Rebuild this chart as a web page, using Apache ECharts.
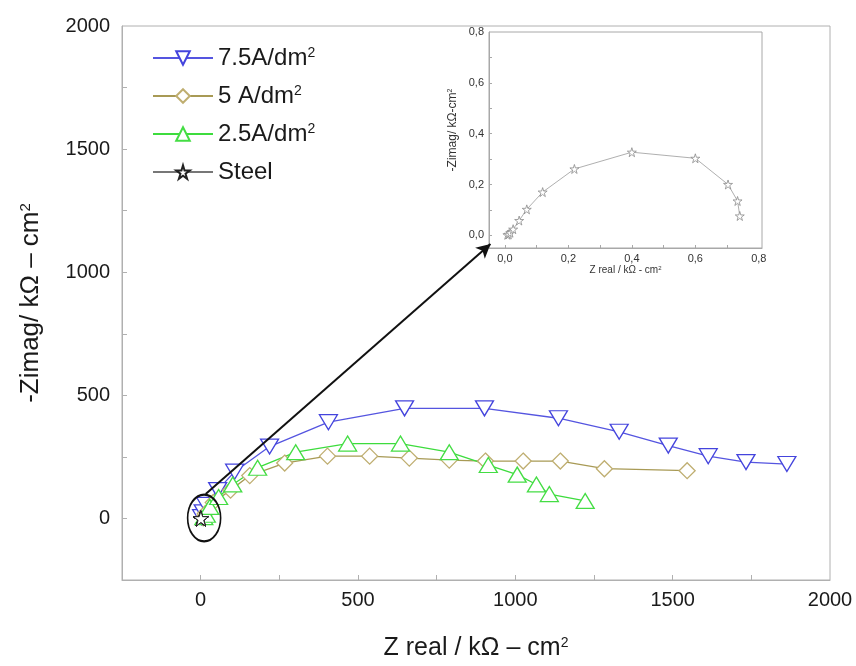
<!DOCTYPE html>
<html><head><meta charset="utf-8">
<script src="https://cdn.jsdelivr.net/npm/echarts@6/dist/echarts.min.js"></script>
<style>html,body{margin:0;padding:0;background:#fff}#c{width:856px;height:666px}</style>
</head><body><div id="c"></div>
<script>
// ---------- data (kΩ·cm²) ----------
const names = ['7.5A/dm2', '5 A/dm2', '2.5A/dm2', 'Steel'];

const zReal75 = [3, 8, 16, 54, 108, 219, 406, 648, 902, 1137, 1330, 1486, 1613, 1733, 1863];
const zImag75 = [5, 25, 55, 115, 190, 292, 391, 447, 447, 407, 352, 296, 253, 229, 221];

const zReal50 = [8, 15, 40, 95, 156, 267, 403, 537, 663, 790, 905, 1025, 1143, 1283, 1546];
const zImag50 = [3, 20, 65, 115, 174, 225, 253, 253, 245, 237, 233, 233, 233, 202, 194];

const zReal25 = [10, 18, 29, 57, 102, 181, 302, 467, 635, 790, 914, 1006, 1067, 1108, 1222];
const zImag25 = [5, 15, 47, 87, 138, 206, 269, 304, 304, 269, 217, 178, 138, 99, 71];

const zRealSteel = [0.008, 0.012, 0.017, 0.026, 0.045, 0.069, 0.119, 0.219, 0.400, 0.600, 0.703, 0.733, 0.740];
const zImagSteel = [0.002, 0.004, 0.010, 0.024, 0.058, 0.102, 0.170, 0.261, 0.327, 0.303, 0.200, 0.135, 0.076];

const mainLabelTicks = [0, 500, 1000, 1500, 2000];
const mainTicks = [0, 250, 500, 750, 1000, 1250, 1500, 1750];
const insetLabelTicks = [0, 0.2, 0.4, 0.6, 0.8];
const insetTicks = [0, 0.1, 0.2, 0.3, 0.4, 0.5, 0.6, 0.7];

const pairs = (xs, ys) => xs.map((x, i) => [x, ys[i]]);

const STAR = 'path://M50,0 L61,35 L98,35 L68,57 L79,91 L50,70 L21,91 L32,57 L2,35 L39,35 Z';
const FONT = 'Liberation Sans, Arial, sans-serif';

const legendText = {
  '7.5A/dm2': '{b|7.5A/dm}{s|2}',
  '5 A/dm2': '{b|5 A/dm}{s|2}',
  '2.5A/dm2': '{b|2.5A/dm}{s|2}',
  'Steel': '{b|Steel}'
};

const chart = echarts.init(document.getElementById('c'), null, {renderer: 'canvas'});

const mainAxisCommon = {
  type: 'value',
  min: -250, max: 2000,
  axisLine: {show: true, onZero: false, lineStyle: {color: '#b0b0b0', width: 1}},
  splitLine: {show: false},
  axisTick: {show: true, inside: true, length: 5, customValues: mainTicks, lineStyle: {color: '#b0b0b0'}},
  axisLabel: {customValues: mainLabelTicks, color: '#1a1a1a', fontSize: 20, fontFamily: FONT, formatter: v => String(v)},
  nameTextStyle: {color: '#1a1a1a', fontFamily: FONT}
};
const insetAxisCommon = {
  type: 'value',
  axisLine: {show: true, onZero: false, lineStyle: {color: '#a8a8a8', width: 1}},
  splitLine: {show: false},
  axisTick: {show: true, inside: true, length: 3, customValues: insetTicks, lineStyle: {color: '#a8a8a8'}},
  axisLabel: {customValues: insetLabelTicks, color: '#333', fontSize: 11, fontFamily: FONT, margin: 5,
    formatter: v => v.toFixed(1).replace('.', ',')},
  nameTextStyle: {color: '#333', fontFamily: FONT}
};

const option = {
  animation: false,
  backgroundColor: '#fff',
  textStyle: {fontFamily: FONT},
  grid: [
    {left: 122, top: 26, right: 26, bottom: 72, show: true, borderColor: '#b0b0b0', borderWidth: 1, containLabel: false},
    {left: 489, top: 32, right: 94, bottom: 418, show: true, borderColor: '#a8a8a8', borderWidth: 1, backgroundColor: '#fff', containLabel: false}
  ],
  xAxis: [
    Object.assign({}, mainAxisCommon, {gridIndex: 0,
      axisLabel: Object.assign({}, mainAxisCommon.axisLabel, {margin: 10}),
      name: '{n|Z real / kΩ – cm}{s|2}', nameLocation: 'middle', nameGap: 56,
      nameTextStyle: {rich: {n: {fontSize: 25, color: '#1a1a1a', fontFamily: FONT}, s: {fontSize: 14, color: '#1a1a1a', verticalAlign: 'top', fontFamily: FONT}}}}),
    Object.assign({}, insetAxisCommon, {gridIndex: 1, min: -0.05, max: 0.81,
      name: '{n|Z real / kΩ - cm}{s|2}', nameLocation: 'middle', nameGap: 9,
      nameTextStyle: {rich: {n: {fontSize: 10, color: '#333', fontFamily: FONT}, s: {fontSize: 6, color: '#333', verticalAlign: 'top', fontFamily: FONT}}}})
  ],
  yAxis: [
    Object.assign({}, mainAxisCommon, {gridIndex: 0,
      axisLabel: Object.assign({}, mainAxisCommon.axisLabel, {margin: 12}),
      name: '{n|-Zimag/ kΩ – cm}{s|2}', nameLocation: 'middle', nameGap: 78, nameRotate: 90,
      nameTextStyle: {rich: {n: {fontSize: 26, color: '#1a1a1a', fontFamily: FONT}, s: {fontSize: 15, color: '#1a1a1a', verticalAlign: 'top', fontFamily: FONT}}}}),
    Object.assign({}, insetAxisCommon, {gridIndex: 1, min: -0.05, max: 0.8,
      name: '{n|-Zimag/ kΩ-cm}{s|2}', nameLocation: 'middle', nameGap: 30, nameRotate: 90,
      nameTextStyle: {padding: [0, 0, 0, 20], rich: {n: {fontSize: 12, color: '#333', fontFamily: FONT}, s: {fontSize: 7, color: '#333', verticalAlign: 'top', fontFamily: FONT}}}})
  ],
  legend: {
    data: names,
    orient: 'vertical',
    left: 147, top: 41,
    itemWidth: 60, itemHeight: 17, itemGap: 14,
    formatter: n => legendText[n],
    textStyle: {rich: {b: {fontSize: 24, color: '#1a1a1a', fontFamily: FONT}, s: {fontSize: 14, color: '#1a1a1a', verticalAlign: 'top', fontFamily: FONT}}}
  },
  series: [
    {name: names[0], type: 'line', xAxisIndex: 0, yAxisIndex: 0, data: pairs(zReal75, zImag75),
      symbol: 'triangle', symbolRotate: 180, symbolSize: [18, 15], showAllSymbol: true,
      lineStyle: {color: '#5555e0', width: 1.3}, itemStyle: {color: '#fff', borderColor: '#4444dd', borderWidth: 1.3},
      markLine: {silent: true, symbol: ['none', 'arrow'], symbolSize: [11, 14], animation: false,
        label: {show: false}, emphasis: {disabled: true},
        lineStyle: {color: '#111', width: 2, type: 'solid'},
        data: [[{coord: [16, 99]}, {coord: [921, 1115]}]]}},
    {name: names[1], type: 'line', xAxisIndex: 0, yAxisIndex: 0, data: pairs(zReal50, zImag50),
      symbol: 'diamond', symbolSize: [16, 16], showAllSymbol: true,
      lineStyle: {color: '#a89a55', width: 1.3}, itemStyle: {color: '#fff', borderColor: '#bfae70', borderWidth: 1.3}},
    {name: names[2], type: 'line', xAxisIndex: 0, yAxisIndex: 0, data: pairs(zReal25, zImag25),
      symbol: 'triangle', symbolSize: [18, 15], showAllSymbol: true,
      lineStyle: {color: '#3ddc3d', width: 1.3}, itemStyle: {color: '#fff', borderColor: '#44dd44', borderWidth: 1.3}},
    {name: names[3], type: 'line', xAxisIndex: 0, yAxisIndex: 0, data: pairs(zRealSteel, zImagSteel),
      symbol: STAR, symbolSize: 15, showAllSymbol: true, z: 5,
      lineStyle: {color: '#777', width: 1.3}, itemStyle: {color: '#fff', borderColor: '#222', borderWidth: 1}},
    {name: 'Steel (inset)', type: 'line', xAxisIndex: 1, yAxisIndex: 1, data: pairs(zRealSteel, zImagSteel),
      symbol: STAR, symbolSize: 9, showAllSymbol: true,
      lineStyle: {color: '#9a9a9a', width: 0.8}, itemStyle: {color: '#fff', borderColor: '#8a8a8a', borderWidth: 0.8}}
  ]
};
chart.setOption(option);

// annotation ellipse around the origin cluster
const c0 = chart.convertToPixel({gridIndex: 0}, [11, 2]);
chart.setOption({
  graphic: [{
    type: 'circle', x: c0[0], y: c0[1], scaleX: 1, scaleY: 1.42,
    shape: {cx: 0, cy: 0, r: 16.5}, silent: true, z: 10,
    style: {fill: 'none', stroke: '#111', lineWidth: 1.6}
  }]
});
</script>
</body></html>
